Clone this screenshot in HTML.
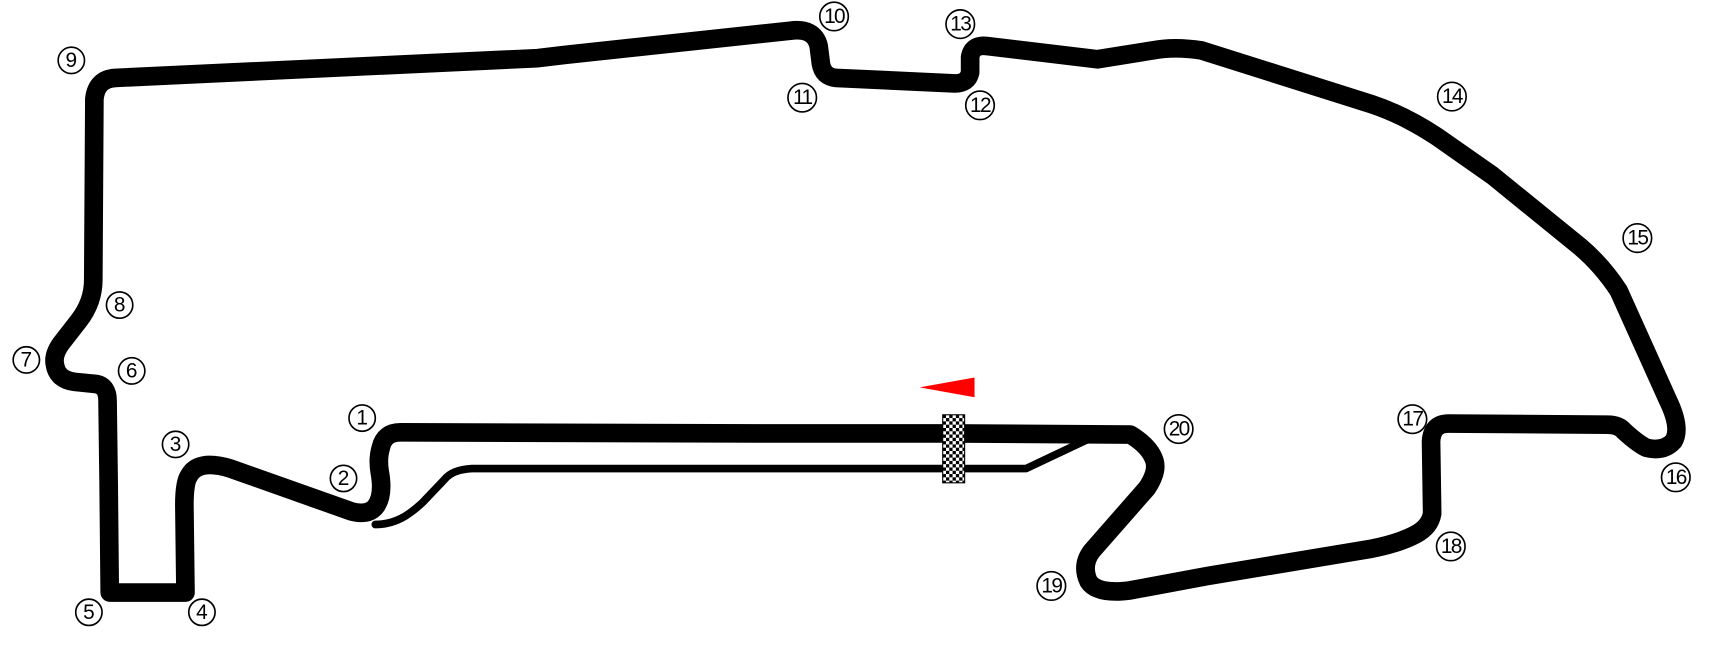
<!DOCTYPE html>
<html><head><meta charset="utf-8"><style>
html,body{margin:0;padding:0;background:#fff;}
svg{display:block;}
text{font-family:"Liberation Sans",sans-serif;font-size:19px;text-anchor:middle;dominant-baseline:central;fill:#000;}
</style></head><body>
<svg width="1712" height="654" viewBox="0 0 1560 596" preserveAspectRatio="none">
<defs>
<pattern id="chk" width="6" height="6" patternUnits="userSpaceOnUse" x="859" y="378">
<rect width="6" height="6" fill="#fff"/><rect width="3" height="3" fill="#000"/><rect x="3" y="3" width="3" height="3" fill="#000"/>
</pattern>
</defs>
<path fill="none" stroke="#000" stroke-width="7" stroke-linejoin="round" stroke-linecap="round"
d="M342,478 C360,478 372,470 385,458 L405,437 Q412,428 430,427 L680,427 L935,427 L990,401"/>
<path fill="none" stroke="#000" stroke-width="17" stroke-linejoin="round" stroke-linecap="round"
d="M868,395 L690,395 L365,394 Q350,394 347,408 Q344,418 346,430 Q350,452 342,462 Q335,470 320,466 L210,427 Q180,418 172,434 Q168,440 168,460 L169,540 L100,540 L99,440 L98,365 Q98,352 88,350 L68,348 Q52,346 50,332 Q48,322 58,310 L72,292 Q85,275 85,255 L86,90 Q88,72 105,71 L490,53 L515,50 L720,28 Q742,25 746,42 L748,58 Q750,70 762,71 L870,76 Q882,76 884,66 L884,52 Q886,40 900,42 L1000,54 L1050,46 Q1070,42 1095,46 L1250,95 Q1280,105 1310,125 L1360,160 L1440,225 Q1460,242 1475,265 L1520,365 Q1532,390 1525,402 Q1516,412 1500,408 Q1492,404 1480,393 Q1475,387 1465,387 L1320,386 Q1305,386 1304,402 L1305,468 Q1303,480 1290,487 Q1275,495 1250,500 L1100,525 L1030,538 Q1000,542 992,530 Q985,515 995,502 L1045,445 Q1055,430 1052,420 Q1048,407 1030,396 L868,395 Z"/>
<rect x="859" y="378" width="20" height="62" fill="url(#chk)" stroke="#000" stroke-width="1"/>
<polygon points="838,353 888,344 888,362" fill="#f00"/>
<g fill="none" stroke="#000" stroke-width="1.5">
<circle cx="330" cy="381" r="12"/><circle cx="313" cy="436" r="12"/><circle cx="160" cy="405" r="12"/><circle cx="184" cy="558" r="12"/><circle cx="81" cy="558" r="12"/><circle cx="120" cy="338" r="12"/><circle cx="24" cy="328" r="12"/><circle cx="109" cy="278" r="12"/><circle cx="65" cy="55" r="12"/><circle cx="760" cy="15" r="13"/><circle cx="731" cy="89" r="13"/><circle cx="893" cy="96" r="13"/><circle cx="875" cy="22" r="13"/><circle cx="1323" cy="88" r="13"/><circle cx="1492" cy="217" r="13"/><circle cx="1527" cy="435" r="13"/><circle cx="1287" cy="382" r="13"/><circle cx="1322" cy="498" r="13"/><circle cx="958" cy="534" r="13"/><circle cx="1074" cy="391" r="13"/>
</g>
<text x="330" y="381">1</text><text x="313" y="436">2</text><text x="160" y="405">3</text><text x="184" y="558">4</text><text x="81" y="558">5</text><text x="120" y="338">6</text><text x="24" y="328">7</text><text x="109" y="278">8</text><text x="65" y="55">9</text>
<g style="font-size:17px;letter-spacing:-1.5px">
<text x="760" y="15">10</text><text x="731" y="89">11</text><text x="893" y="96">12</text><text x="875" y="22">13</text><text x="1323" y="88">14</text><text x="1492" y="217">15</text><text x="1527" y="435">16</text><text x="1287" y="382">17</text><text x="1322" y="498">18</text><text x="958" y="534">19</text><text x="1074" y="391">20</text>
</g>
</svg>
</body></html>
